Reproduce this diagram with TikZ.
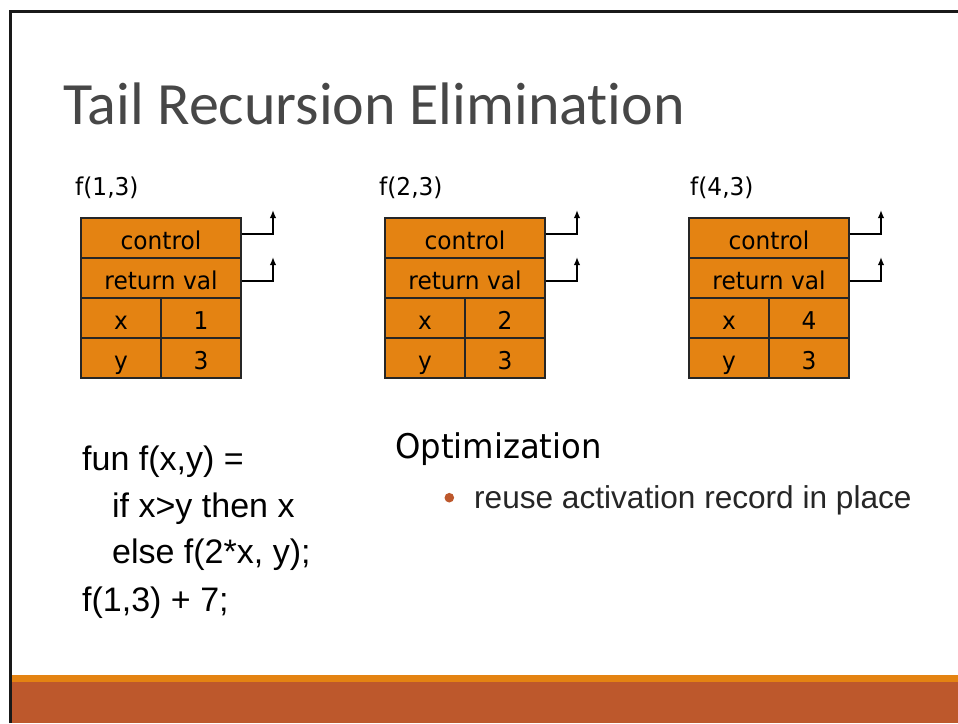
\documentclass[tikz,border=0pt]{standalone}
\usepackage{fontspec}
\setmainfont{Liberation Sans}
\newfontfamily\titlefont[Ligatures=NoCommon]{Carlito}
\newfontfamily\recfont[FakeStretch=0.95]{DejaVu Sans}
\usetikzlibrary{arrows.meta}

\definecolor{recfill}{HTML}{E48312}
\definecolor{barlight}{HTML}{E48312}
\definecolor{bardark}{HTML}{BD582C}
\definecolor{titlegray}{HTML}{474747}
\definecolor{bodyink}{HTML}{262626}

\tikzset{
  cell/.style={draw=black!85, line width=1.2pt, fill=recfill, rectangle,
    minimum height=40pt, inner sep=0pt, text height=22pt, text depth=0pt,
    font=\recfont\fontsize{24.5}{28}\selectfont},
  lbl/.style={anchor=base west, inner sep=0pt,
    font=\recfont\fontsize{24.5}{28}\selectfont},
  codeline/.style={anchor=base west, inner sep=0pt, text=black,
    font=\fontsize{34}{40}\selectfont},
  link/.style={line width=1.8pt, -{Latex[length=8pt,width=6.5pt]}},
}

% one activation record: #1 name, #2 left edge, #3 caption, #4 caption x, #5 value of x
\newcommand\actrec[5]{%
  \node[lbl] (#1-name) at (#4,195) {#3};
  \begin{scope}[shift={(#2,0)}]
    \node[cell, minimum width=160pt] (#1-ctl) at (80,238) {control};
    \node[cell, minimum width=160pt] (#1-ret) at (80,278) {return val};
    \node[cell, minimum width=80pt] (#1-xk) at (40,318) {x};
    \node[cell, minimum width=80pt] (#1-xv) at (120,318) {#5};
    \node[cell, minimum width=80pt] (#1-yk) at (40,358) {y};
    \node[cell, minimum width=80pt] (#1-yv) at (120,358) {3};
    \coordinate (#1-ctlup) at (192,210);
    \coordinate (#1-retup) at (192,257);
  \end{scope}
  \draw[link] ([yshift=4pt]#1-ctl.east) -| (#1-ctlup);
  \draw[link] ([yshift=-3pt]#1-ret.east) -| (#1-retup);
}

\begin{document}
\begin{tikzpicture}[x=1pt,y=-1pt]
  \useasboundingbox (0,0) rectangle (958,723);
  \fill[white] (0,0) rectangle (958,723);

  % footer bands
  \fill[barlight] (10,675) rectangle (958,682);
  \fill[bardark] (10,682) rectangle (958,723);

  % slide frame
  \draw[line width=2.7pt, black!90] (10.3,723) -- (10.3,11.3) -- (958,11.3);

  % title
  \node[anchor=base west, inner sep=0pt, text=titlegray,
        font=\titlefont\fontsize{60}{70}\selectfont] (title) at (63,124)
        {Tail Recursion Elimination};

  % activation records
  \actrec{r1}{81}{f(1,3)}{75}{1}
  \actrec{r2}{385}{f(2,3)}{379}{2}
  \actrec{r3}{689}{f(4,3)}{690}{4}

  % source code
  \node[codeline] (code1) at (82,470) {fun f(x,y) =};
  \node[codeline] (code2) at (112,517) {if x>y then x};
  \node[codeline] (code3) at (112,563) {else f(2*x, y);};
  \node[codeline] (code4) at (82,611) {f(1,3) + 7;};

  % optimization note
  \node[anchor=base west, inner sep=0pt, text=black,
        font=\recfont\fontsize{34}{40}\selectfont] (opt) at (395,458)
        {Optimization};
  \fill[bardark] (449.3,497.7) circle (4.8pt) coordinate (dot);
  \node[anchor=base west, inner sep=0pt, text=bodyink,
        font=\fontsize{31.6}{38}\selectfont] (reuse) at (474,508)
        {reuse activation record in place};
\end{tikzpicture}
\end{document}
